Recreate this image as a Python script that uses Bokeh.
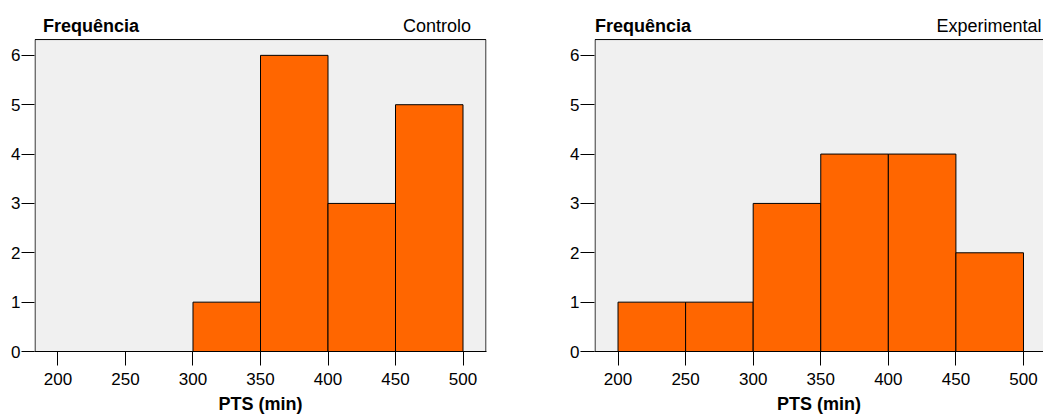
from bokeh.plotting import figure
from bokeh.layouts import row
from bokeh.models import FixedTicker, Range1d, ColumnDataSource
from bokeh.core.properties import value
from bokeh.embed import file_html
from bokeh.resources import INLINE

bin_left = [200, 250, 300, 350, 400, 450]
bin_right = [250, 300, 350, 400, 450, 500]
controlo_counts = [0, 0, 1, 6, 3, 5]
experimental_counts = [1, 1, 3, 4, 4, 2]
x_ticks = [200, 250, 300, 350, 400, 450, 500]
y_ticks = [0, 1, 2, 3, 4, 5, 6]
y_title = "Frequência"
x_title = "PTS (min)"
group_names = ["Controlo", "Experimental"]

FONT = "Liberation Sans"
TICK_FS = "17px"
TITLE_FS = "18px"

PANEL_X0, PANEL_X1 = 183, 517
PANEL_Y1 = 6.32
TOP_PX = 5          # frame top (px) so the titles sit inside the frame
Y_END = 6 + (55 - TOP_PX) / 49.5
TITLE_Y = 6.586


def make_panel(counts, name, width, border_left, border_right, x_start, x_end,
               freq_x, name_x, ytick_len):
    p = figure(width=width, height=416, output_backend="svg", toolbar_location=None,
               x_range=Range1d(x_start, x_end), y_range=Range1d(0, Y_END),
               min_border_left=border_left, min_border_right=border_right,
               min_border_top=TOP_PX, min_border_bottom=64)
    p.background_fill_color = "white"
    p.border_fill_color = "white"
    p.outline_line_color = None
    p.xgrid.visible = False
    p.ygrid.visible = False

    # grey plotting panel
    p.quad(left=[PANEL_X0], right=[PANEL_X1], bottom=[0], top=[PANEL_Y1],
           fill_color="#F0F0F0", line_color="black", line_width=1)

    l = [a for a, c in zip(bin_left, counts) if c > 0]
    r = [b for b, c in zip(bin_right, counts) if c > 0]
    t = [c for c in counts if c > 0]
    src = ColumnDataSource(dict(left=l, right=r, top=t, bottom=[0] * len(t)))
    p.quad(left="left", right="right", top="top", bottom="bottom", source=src,
           fill_color="#FF6600", line_color="black", line_width=1)

    for ax in (p.xaxis[0], p.yaxis[0]):
        ax.axis_line_color = "black"
        ax.major_tick_line_color = "black"
        ax.minor_tick_line_color = None
        ax.major_tick_in = 0
        ax.major_label_text_font = FONT
        ax.major_label_text_font_size = TICK_FS
        ax.major_label_text_color = "black"
    p.yaxis.axis_line_color = None
    p.xaxis.ticker = FixedTicker(ticks=x_ticks)
    p.yaxis.ticker = FixedTicker(ticks=y_ticks)
    p.xaxis.major_tick_out = 14
    p.yaxis.major_tick_out = ytick_len
    p.xaxis.major_label_standoff = 7
    p.yaxis.major_label_standoff = 1
    p.xaxis.axis_label = x_title
    p.xaxis.axis_label_text_font = FONT
    p.xaxis.axis_label_text_font_size = TITLE_FS
    p.xaxis.axis_label_text_font_style = "bold"
    p.xaxis.axis_label_text_color = "black"
    p.xaxis.axis_label_standoff = 6

    p.text(x=[freq_x], y=[TITLE_Y], text=[y_title], text_font=value(FONT),
           text_font_size=TITLE_FS, text_font_style="bold", text_align="left",
           text_baseline="alphabetic", text_color="black")
    p.text(x=[name_x], y=[TITLE_Y], text=[name], text_font=value(FONT),
           text_font_size=TITLE_FS, text_align="right",
           text_baseline="alphabetic", text_color="black")
    return p


p1 = make_panel(controlo_counts, group_names[0], 520, 34, 34, 182.6, 517.4,
                188.9, 506.0, 13)
p2 = make_panel(experimental_counts, group_names[1], 523, 74, 0, 182.6, 514.8,
                183.0, 513.3, 14)

layout = row(p1, p2, spacing=0)
open("out.html", "w").write(file_html(layout, INLINE))
